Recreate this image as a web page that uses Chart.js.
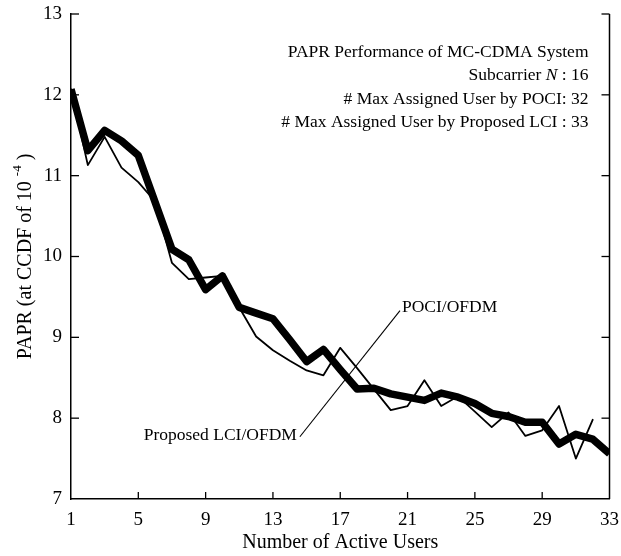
<!DOCTYPE html>
<html>
<head>
<meta charset="utf-8">
<title>PAPR vs Number of Active Users</title>
<script src="https://cdn.jsdelivr.net/npm/chart.js@4.4.1/dist/chart.umd.min.js"></script>
<style>
  html, body { margin: 0; padding: 0; background: #fff; }
  canvas { display: block; }
</style>
</head>
<body>
<canvas id="papr" width="621" height="556"></canvas>
<script>
// Number of active users (x axis)
const activeUsers = [1, 2, 3, 4, 5, 6, 7, 8, 9, 10, 11, 12, 13, 14, 15, 16, 17,
                     18, 19, 20, 21, 22, 23, 24, 25, 26, 27, 28, 29, 30, 31, 32, 33];

// PAPR at CCDF of 1e-4, proposed LCI/OFDM (thick curve, users 1..33)
const paprLci = [12.07, 11.31, 11.56, 11.43, 11.25, 10.67, 10.09, 9.96, 9.59, 9.76,
                 9.37, 9.30, 9.23, 8.97, 8.70, 8.85, 8.60, 8.36, 8.37, 8.30,
                 8.26, 8.22, 8.31, 8.26, 8.18, 8.06, 8.02, 7.95, 7.95, 7.68,
                 7.80, 7.74, 7.56];

// PAPR at CCDF of 1e-4, POCI/OFDM (thin curve, users 1..32)
const paprPoci = [12.07, 11.13, 11.48, 11.10, 10.92, 10.68, 9.92, 9.72, 9.74, 9.76,
                  9.37, 9.01, 8.84, 8.71, 8.59, 8.53, 8.87, 8.62, 8.36, 8.10,
                  8.15, 8.47, 8.15, 8.27, 8.08, 7.89, 8.07, 7.78, 7.85, 8.15,
                  7.50, 7.98];

// Axis tick values
const xTickValues = [1, 5, 9, 13, 17, 21, 25, 29, 33];
const yTickValues = [7, 8, 9, 10, 11, 12, 13];

// Text block in the upper right corner
const infoLines = [
  [{ text: 'PAPR Performance of MC-CDMA System' }],
  [{ text: 'Subcarrier ' }, { text: 'N', italic: true }, { text: ' : 16' }],
  [{ text: '# Max Assigned User by POCI: 32' }],
  [{ text: '# Max Assigned User by Proposed LCI : 33' }]
];

const SERIF = '"Liberation Serif", "Times New Roman", serif';

const toPoints = (values) => values.map((v, i) => ({ x: activeUsers[i], y: v }));

// Leader line joining the two curve labels (data coordinates)
const leader = { from: { x: 14.6, y: 7.77 }, to: { x: 20.55, y: 9.33 } };

const decorations = {
  id: 'decorations',
  afterDraw(chart) {
    const { ctx, chartArea: a, scales: { x, y } } = chart;
    const seg = (x1, y1, x2, y2) => {
      ctx.beginPath(); ctx.moveTo(x1, y1); ctx.lineTo(x2, y2); ctx.stroke();
    };
    ctx.save();
    ctx.strokeStyle = '#000';
    ctx.fillStyle = '#000';

    // right frame edge
    ctx.lineWidth = 1.5;
    seg(a.right, a.top, a.right, a.bottom);

    // inward tick marks
    ctx.lineWidth = 1.3;
    x.ticks.forEach(t => {
      if (t.value === x.min || t.value === x.max) return;
      const px = x.getPixelForValue(t.value);
      seg(px, a.bottom, px, a.bottom - 7);
    });
    y.ticks.forEach(t => {
      if (t.value === y.min) return;
      const py = y.getPixelForValue(t.value);
      seg(a.left, py, a.left + 8, py);
      seg(a.right, py, a.right - 8, py);
    });

    // leader line and curve labels
    const lx1 = x.getPixelForValue(leader.from.x), ly1 = y.getPixelForValue(leader.from.y);
    const lx2 = x.getPixelForValue(leader.to.x), ly2 = y.getPixelForValue(leader.to.y);
    ctx.lineWidth = 1.1;
    seg(lx1, ly1, lx2, ly2);
    ctx.font = '17.5px ' + SERIF;
    ctx.textBaseline = 'alphabetic';
    ctx.textAlign = 'right';
    ctx.fillText('Proposed LCI/OFDM', lx1 - 3, ly1 + 3);
    ctx.textAlign = 'left';
    ctx.fillText('POCI/OFDM', lx2 + 2, ly2 + 1);

    // information block, right aligned
    const rightEdge = a.right - 21;
    let base = a.top + 43;
    infoLines.forEach(parts => {
      const fonts = parts.map(p => (p.italic ? 'italic ' : '') + '17.5px ' + SERIF);
      let width = 0;
      parts.forEach((p, i) => { ctx.font = fonts[i]; width += ctx.measureText(p.text).width; });
      let cx = rightEdge - width;
      parts.forEach((p, i) => {
        ctx.font = fonts[i];
        ctx.fillText(p.text, cx, base);
        cx += ctx.measureText(p.text).width;
      });
      base += 23.3;
    });

    // y axis title with superscript exponent
    const pieces = [
      { text: 'PAPR (at CCDF of 10 ', size: 20, rise: 0 },
      { text: '-4', size: 13, rise: -8 },
      { text: ' )', size: 20, rise: 0 }
    ];
    let total = 0;
    pieces.forEach(p => { ctx.font = p.size + 'px ' + SERIF; p.w = ctx.measureText(p.text).width; total += p.w; });
    ctx.translate(26, (a.top + a.bottom) / 2);
    ctx.rotate(-Math.PI / 2);
    ctx.textAlign = 'left';
    ctx.textBaseline = 'middle';
    let px = -total / 2;
    pieces.forEach(p => {
      ctx.font = p.size + 'px ' + SERIF;
      ctx.fillText(p.text, px, p.rise);
      px += p.w;
    });
    ctx.restore();
  }
};

new Chart(document.getElementById('papr'), {
  type: 'line',
  data: {
    datasets: [
      {
        label: 'POCI/OFDM',
        data: toPoints(paprPoci),
        borderColor: '#000',
        borderWidth: 1.8,
        pointRadius: 0,
        borderJoinStyle: 'round',
        borderCapStyle: 'round',
        tension: 0
      },
      {
        label: 'Proposed LCI/OFDM',
        data: toPoints(paprLci),
        borderColor: '#000',
        borderWidth: 7.5,
        pointRadius: 0,
        borderJoinStyle: 'round',
        borderCapStyle: 'butt',
        tension: 0
      }
    ]
  },
  options: {
    responsive: false,
    devicePixelRatio: 1,
    animation: false,
    events: [],
    layout: { padding: { left: 0, right: 11.5, top: 14, bottom: 0 } },
    plugins: { legend: { display: false }, tooltip: { enabled: false }, title: { display: false } },
    scales: {
      x: {
        type: 'linear',
        min: 1,
        max: 33,
        afterBuildTicks: s => { s.ticks = xTickValues.map(v => ({ value: v })); },
        afterFit: s => { s.height = 57; s.paddingLeft = 0; s.paddingRight = 0; },
        grid: { display: false, drawTicks: false },
        border: { display: true, color: '#000', width: 1.5 },
        ticks: {
          color: '#000',
          font: { family: SERIF, size: 19 },
          padding: 10,
          maxRotation: 0,
          autoSkip: false
        },
        title: {
          display: true,
          text: 'Number of Active Users',
          color: '#000',
          font: { family: SERIF, size: 20 },
          padding: { top: 0, bottom: 1 }
        }
      },
      y: {
        type: 'linear',
        min: 7,
        max: 13,
        afterBuildTicks: s => { s.ticks = yTickValues.map(v => ({ value: v })); },
        afterFit: s => { s.width = 71; s.paddingTop = 0; s.paddingBottom = 0; },
        grid: { display: false, drawTicks: false },
        border: { display: true, color: '#000', width: 1.5 },
        ticks: {
          color: '#000',
          font: { family: SERIF, size: 19 },
          padding: 9
        }
      }
    }
  },
  plugins: [decorations]
});
</script>
</body>
</html>
